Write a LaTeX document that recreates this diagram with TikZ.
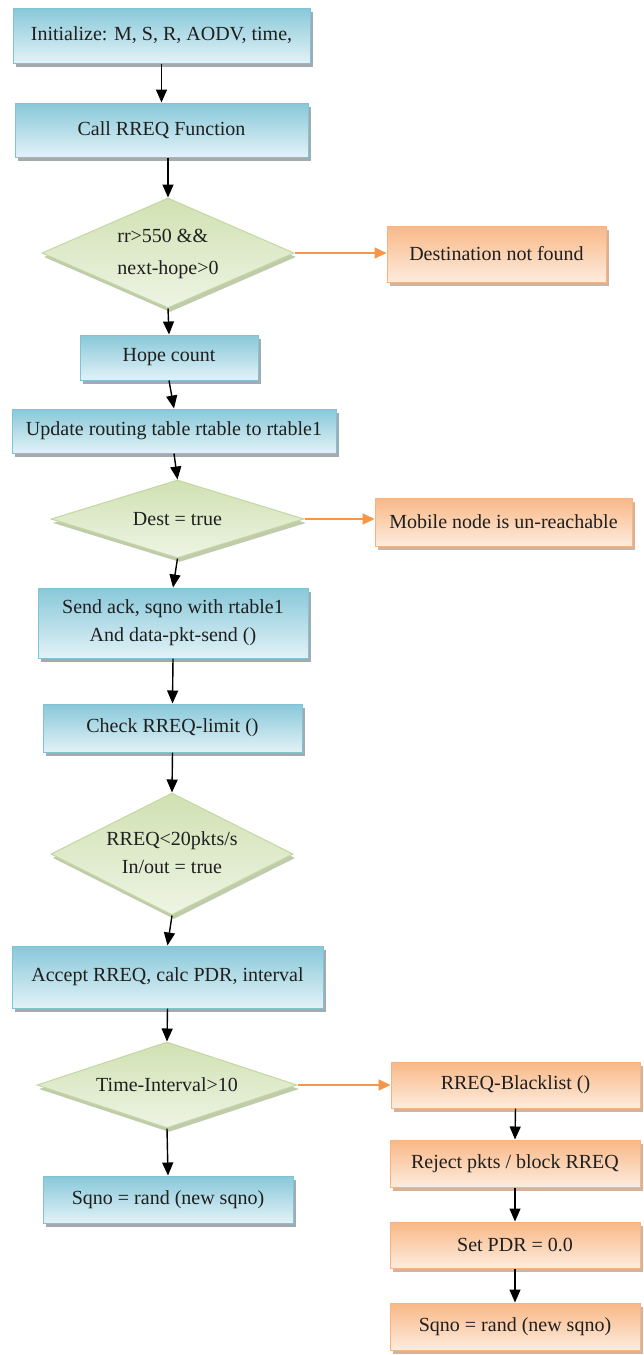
\documentclass[tikz,border=0pt]{standalone}
\usepackage{fontspec}
\setmainfont{Liberation Serif}
\usetikzlibrary{shapes.geometric,arrows.meta,shadows}
\definecolor{bluedark}{RGB}{136,200,217}
\definecolor{bluelight}{RGB}{226,242,247}
\definecolor{blueedge}{RGB}{126,196,214}
\definecolor{orgdark}{RGB}{249,184,134}
\definecolor{orglight}{RGB}{253,236,222}
\definecolor{orgedge}{RGB}{247,180,128}
\definecolor{grndark}{RGB}{208,225,178}
\definecolor{grnlight}{RGB}{238,244,228}
\definecolor{grnedge}{RGB}{196,215,160}
\definecolor{arroworange}{RGB}{247,150,70}
\definecolor{shblue}{RGB}{140,150,155}
\definecolor{shorange}{RGB}{200,160,130}
\definecolor{shgreen}{RGB}{175,190,150}
\begin{document}
\begin{tikzpicture}[x=1pt,y=-1pt,
  txt/.style={font=\fontsize{20}{28}\selectfont, text=black!88, inner sep=0pt, align=center},
  bluebox/.style={txt, rectangle, draw=blueedge, line width=1pt,
    top color=bluedark, bottom color=bluelight,
    drop shadow={shadow xshift=3pt, shadow yshift=-4pt, fill=shblue, opacity=0.8}},
  orgbox/.style={txt, rectangle, draw=orgedge, line width=1pt,
    top color=orgdark, bottom color=orglight,
    drop shadow={shadow xshift=3pt, shadow yshift=-4pt, fill=shorange, opacity=0.8}},
  gdia/.style={txt, diamond, draw=grnedge, line width=1pt,
    top color=grndark, bottom color=grnlight,
    drop shadow={shadow xshift=2pt, shadow yshift=-4pt, fill=shgreen, opacity=0.8}},
  arr/.style={draw=black, line width=1.4pt, -{Triangle[length=13pt,width=11pt]}},
  oarr/.style={draw=arroworange, line width=1.8pt, -{Triangle[length=12pt,width=11pt]}}
]
\useasboundingbox (0,0) rectangle (643,1355);

% left column
\node[bluebox, minimum width=297pt, minimum height=55pt] (b1) at (161.5,35.5) {Initialize: M, S, R, AODV, time,};
\node[bluebox, minimum width=293pt, minimum height=54pt] (b2) at (161.5,130) {Call RREQ Function};
\node[gdia, minimum width=252pt, minimum height=110pt] (d1) at (168,253)
  {\makebox[0pt]{\begin{tabular}{@{}l@{}}rr>550 \&\&\\[4pt]next-hope>0\end{tabular}}};
\node[orgbox, minimum width=219pt, minimum height=56pt] (o1) at (496.5,254) {Destination not found};
\node[bluebox, minimum width=178pt, minimum height=45pt] (b3) at (169,357.5) {Hope count};
\node[bluebox, minimum width=324pt, minimum height=44pt] (b4) at (174,431) {Update routing table rtable to rtable1};
\node[gdia, minimum width=253pt, minimum height=78pt] (d2) at (177.5,519)
  {\makebox[0pt]{Dest = true}};
\node[orgbox, minimum width=257pt, minimum height=48pt] (o2) at (503.5,522) {Mobile node is un-reachable};
\node[bluebox, minimum width=270pt, minimum height=70pt] (b5) at (173,623) {Send ack, sqno with rtable1\\And data-pkt-send ()};
\node[bluebox, minimum width=259pt, minimum height=48pt] (b6) at (172.5,728) {Check RREQ-limit ()};
\node[gdia, minimum width=242pt, minimum height=122pt] (d3) at (172,854)
  {\makebox[0pt]{\begin{tabular}{@{}c@{}}RREQ<20pkts/s\\In/out = true\end{tabular}}};
\node[bluebox, minimum width=311pt, minimum height=62pt] (b7) at (167.5,977) {Accept RREQ, calc PDR, interval};
\node[gdia, minimum width=260pt, minimum height=86pt] (d4) at (167,1085)
  {\makebox[0pt]{Time-Interval>10}};
\node[bluebox, minimum width=250pt, minimum height=47pt] (b8) at (168,1199.5) {Sqno = rand (new sqno)};

% right column
\node[orgbox, minimum width=249pt, minimum height=46pt] (r1) at (515.5,1085) {RREQ-Blacklist ()};
\node[orgbox, minimum width=250pt, minimum height=47pt] (r2) at (515,1163.5) {Reject pkts / block RREQ};
\node[orgbox, minimum width=250pt, minimum height=46pt] (r3) at (515,1245) {Set PDR = 0.0};
\node[orgbox, minimum width=250pt, minimum height=47pt] (r4) at (515,1326.5) {Sqno = rand (new sqno)};

% connectors
\draw[arr] (b1.south) -- (b2.north);
\draw[arr] (b2.south -| d1.north) -- (d1.north);
\draw[arr] (d1.south) -- (b3.north);
\draw[arr] (b3.south) -- (b4.north);
\draw[arr] (b4.south) -- (d2.north);
\draw[arr] (d2.south) -- (b5.north);
\draw[arr] (b5.south) -- (b6.north);
\draw[arr] (b6.south) -- (d3.north);
\draw[arr] (d3.south) -- (b7.north);
\draw[arr] (b7.south) -- (d4.north);
\draw[arr] (d4.south) -- (b8.north);
\draw[arr] (r1.south) -- (r2.north);
\draw[arr] (r2.south) -- (r3.north);
\draw[arr] (r3.south) -- (r4.north);
\draw[oarr] (d1.east) -- (d1.east -| o1.west);
\draw[oarr] (d2.east) -- (d2.east -| o2.west);
\draw[oarr] (d4.east) -- (d4.east -| r1.west);
\end{tikzpicture}
\end{document}
